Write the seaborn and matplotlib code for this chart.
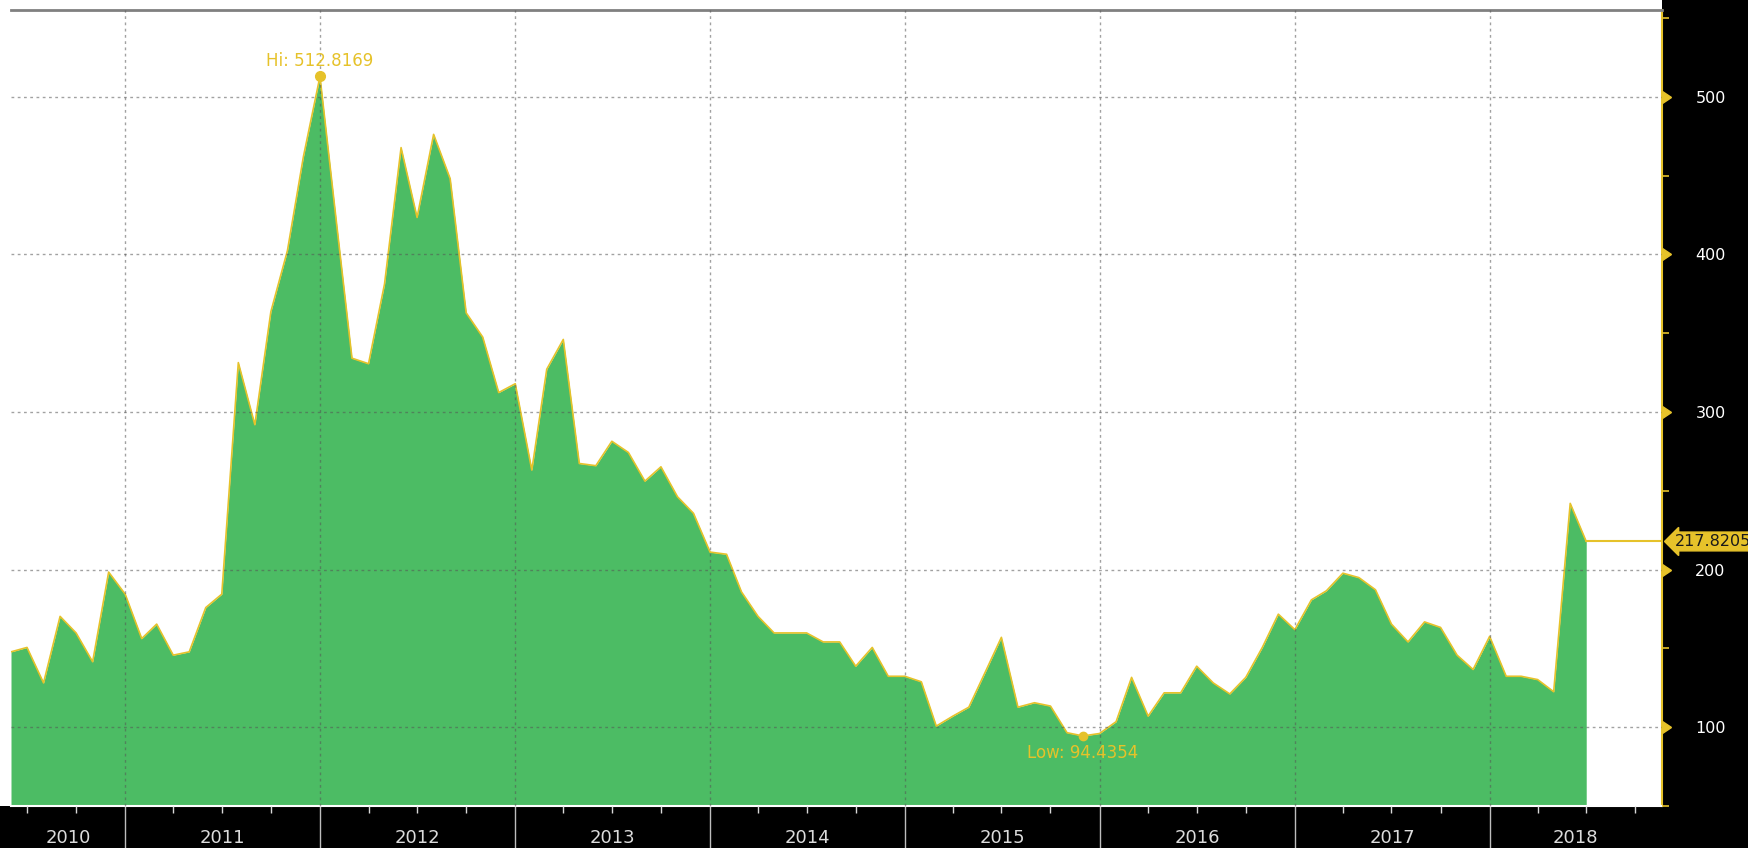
import pandas as pd
import numpy as np
import seaborn as sns
import matplotlib.pyplot as plt
import matplotlib.dates as mdates
import matplotlib.transforms as mtransforms
from matplotlib.patches import Rectangle

# monthly series, Jun 2010 - Jul 2018
months = pd.date_range('2010-06-01', periods=98, freq='MS')
values = [
    147.8, 150.6, 128.1, 170.3, 159.8, 141.5, 198.4,
    184.4, 156.2, 165.4, 145.7, 147.8, 175.9, 184.4, 331.3, 291.9, 363.6, 402.3, 462.0,
    512.8169, 419.9, 334.1, 330.6, 381.2, 467.7, 423.4, 476.1, 448.0, 362.9, 347.5, 312.3,
    317.9, 263.1, 327.1, 346.0, 267.3, 265.9, 281.4, 274.3, 256.1, 265.2, 246.2, 235.7,
    211.1, 209.7, 185.8, 170.3, 159.8, 159.8, 159.8, 154.1, 154.1, 138.7, 150.6, 132.3,
    132.3, 128.8, 100.7, 107.0, 112.7, 135.1, 157.0, 112.7, 115.5, 113.4, 96.5,
    94.4354, 96.0, 103.5, 131.6, 107.0, 121.8, 121.8, 138.7, 128.1, 121.1, 131.6,
    150.6, 171.7, 161.9, 180.8, 186.5, 197.7, 194.9, 187.2, 165.4, 154.1, 166.8, 163.3,
    145.7, 136.6, 157.6, 132.3, 132.3, 130.2, 122.5, 242.0, 217.8205,
]
years = list(range(2010, 2019))
y_ticks = [100, 200, 300, 400, 500]

df = pd.DataFrame({'date': months, 'value': values})

fill_green = '#4cbc64'
gold = '#e6c22a'

sns.set_style('white')
plt.rcParams['font.family'] = ['DejaVu Sans']

fig = plt.figure(figsize=(17.48, 8.48), dpi=100)
fig.patch.set_facecolor('black')
left, right = 11 / 1748, 1662 / 1748
bottom, top = 42 / 848, 838 / 848
fig.patches.append(Rectangle((0, bottom), right, 1 - bottom, transform=fig.transFigure,
                             facecolor='white', edgecolor='none', zorder=-10))
ax = fig.add_axes([left, bottom, right - left, top - bottom])
ax.set_facecolor('white')

# area + outline
ax.fill_between(df['date'], df['value'], 0, color=fill_green, linewidth=0, zorder=1)
sns.lineplot(data=df, x='date', y='value', ax=ax, color=gold, linewidth=1.2, zorder=2)

xmin, xmax = pd.Timestamp('2010-06-01'), pd.Timestamp('2018-11-20')
ax.set_xlim(xmin, xmax)
ax.set_ylim(52.5, 555)
ax.set_xlabel('')
ax.set_ylabel('')

# grid (drawn over the area, darker where it crosses the fill)
ax.set_axisbelow(False)
ax.grid(True, color='#555555', linestyle=(0, (2, 2.5)), linewidth=1.0, alpha=0.55)

# x axis: year separators and quarterly ticks in the black bar
ax.xaxis.set_major_locator(mdates.YearLocator())
ax.xaxis.set_minor_locator(mdates.MonthLocator(bymonth=(4, 7, 10)))
ax.xaxis.set_major_formatter(plt.NullFormatter())
ax.tick_params(axis='x', which='major', direction='out', length=32, width=1,
               color='#bdbdbd', bottom=True)
ax.tick_params(axis='x', which='minor', direction='out', length=5, width=1,
               color='#d8d8d8', bottom=True)
xtrans = mtransforms.blended_transform_factory(ax.transData, ax.transAxes)
for yr in years:
    s = max(pd.Timestamp(yr, 1, 1), xmin)
    e = min(pd.Timestamp(yr + 1, 1, 1), xmax)
    mid = s + (e - s) / 2
    ax.text(mid, -0.040, str(yr), transform=xtrans, ha='center', va='center',
            color='#dcdcdc', fontsize=13,
            family=['Liberation Sans Narrow', 'DejaVu Sans'])

# y axis on the right
ax.yaxis.tick_right()
ax.set_yticks(y_ticks)
ax.set_yticks(np.arange(50, 551, 50), minor=True)
ax.tick_params(axis='y', which='major', length=0, pad=24, labelcolor='white',
               labelsize=11.5, right=True, left=False)
ax.tick_params(axis='y', which='minor', length=5, width=1.2, color=gold,
               direction='out', right=True, left=False)
ytrans = mtransforms.blended_transform_factory(ax.transAxes, ax.transData)
for v in y_ticks:
    ax.plot([1.0], [v], transform=ytrans, marker=9, markersize=9, color=gold,
            clip_on=False, zorder=5)

ax.spines['left'].set_visible(False)
ax.spines['top'].set_color('#808080')
ax.spines['top'].set_linewidth(2)
ax.spines['bottom'].set_color('white')
ax.spines['bottom'].set_linewidth(1.5)
ax.spines['right'].set_color(gold)
ax.spines['right'].set_linewidth(1.5)

# hi / low annotations
hi_i = int(np.argmax(values))
lo_i = int(np.argmin(values))
ax.plot(months[hi_i], values[hi_i], 'o', color=gold, markersize=7, zorder=6)
ax.annotate(f'Hi: {values[hi_i]:.4f}', (months[hi_i], values[hi_i]),
            xytext=(0, 5), textcoords='offset points', ha='center', va='bottom',
            color=gold, fontsize=12)
ax.plot(months[lo_i], values[lo_i], 'o', color=gold, markersize=6, zorder=6)
ax.annotate(f'Low: {values[lo_i]:.4f}', (months[lo_i], values[lo_i]),
            xytext=(0, -6), textcoords='offset points', ha='center', va='top',
            color=gold, fontsize=12)

# last value line and tag
last = values[-1]
ax.plot([months[-1], xmax], [last, last], color=gold, linewidth=1.5, zorder=3)
ax.annotate(f'{last:.4f}', (1.0, last), xycoords=ytrans, xytext=(9, 0),
            textcoords='offset points', ha='left', va='center', color='#1a1a1a',
            fontsize=11.5, annotation_clip=False,
            bbox=dict(boxstyle='larrow,pad=0.12', fc=gold, ec=gold))

fig.savefig('out.png', dpi=100, facecolor=fig.get_facecolor())
